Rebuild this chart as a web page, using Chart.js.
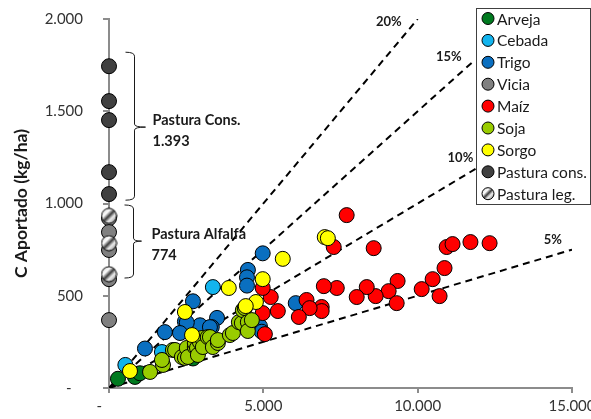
<!DOCTYPE html>
<html>
<head>
<meta charset="utf-8">
<script src="https://cdn.jsdelivr.net/npm/chart.js@4.4.1/dist/chart.umd.min.js"></script>
<style>
  html, body { margin: 0; padding: 0; background: #fff; }
</style>
</head>
<body>
<canvas id="chart" width="591" height="419"></canvas>
<script>
// ---- data ----
const seriesNames = ['Arveja', 'Cebada', 'Trigo', 'Vicia', 'Maíz', 'Soja', 'Sorgo', 'Pastura cons.', 'Pastura leg.'];

const arveja = [[290, 50], [840, 60], [1000, 80], [2720, 160]];
const cebada = [[530, 125], [1715, 195], [3365, 547]];
const trigo = [
    [4980, 730], [4500, 640], [4470, 600], [4470, 555], [2720, 470], [3500, 380],
    [3330, 330], [2950, 340], [2460, 360], [2520, 355], [1810, 303], [2300, 298],
    [1165, 214], [4890, 335], [6050, 460], [4950, 305], [3270, 330],
];
const vicia = [[0, 920], [0, 845], [0, 748], [0, 590], [0, 368]];
const maiz = [
    [7700, 937], [7280, 764], [8575, 758], [10940, 764], [11130, 780], [11710, 791],
    [12330, 785], [10870, 650], [10485, 590], [10130, 536], [10710, 498], [9350, 580],
    [9060, 525], [9320, 460], [8640, 498], [8350, 547], [8025, 493], [7380, 542],
    [6960, 552], [6890, 439], [6890, 417], [6400, 477], [6500, 433], [6150, 385],
    [5470, 417], [5240, 493], [4980, 542], [4980, 406], [5050, 292],
];
const soja = [
    [1330, 87], [1750, 125], [1715, 152], [2070, 206], [2140, 206], [2360, 168],
    [2460, 163], [2520, 217], [2560, 168], [2780, 222], [2780, 244], [2850, 217],
    [2880, 179], [2945, 249], [3010, 271], [3040, 222], [3200, 276], [3270, 276],
    [3365, 222], [3527, 244], [3527, 260], [3916, 287], [4013, 298], [4207, 357],
    [4304, 352], [4336, 422], [4400, 433], [4498, 357], [4498, 309], [4628, 368],
];
const sorgo = [
    [5630, 700], [3880, 542], [4980, 590], [4760, 466], [4430, 444], [2460, 412],
    [2690, 287], [680, 92], [6990, 818], [7090, 812],
];
const pasturaCons = [[0, 1744], [0, 1555], [0, 1452], [0, 1170], [0, 1051]];
const pasturaLeg = [[0, 933], [0, 785], [0, 617]];

// reference lines: C aportado = pct% of x
const ratioPct = [20, 15, 10, 5];
const ratioEndX = [10000, 11850, 11900, 15000];

const xTicks = [0, 5000, 10000, 15000];
const yTicks = [0, 500, 1000, 1500, 2000];

// ---- styles ----
const seriesColors = ['#007a1f', '#12b4ee', '#0a6fc0', '#808080', '#ff0000', '#99cc00', '#ffff00', '#404040', 'leg'];
const FONT = 'Lato, "Open Sans", sans-serif';

function fmt(v) {
    return String(v).replace(/\B(?=(\d{3})+(?!\d))/g, '.');
}

function legGradient(ctx, cx, cy, r) {
    const g = ctx.createLinearGradient(cx - r, cy - r, cx + r, cy + r);
    g.addColorStop(0, '#bdbdbd');
    g.addColorStop(0.33, '#ffffff');
    g.addColorStop(0.5, '#3a3a3a');
    g.addColorStop(0.66, '#eeeeee');
    g.addColorStop(1, '#707070');
    return g;
}

function legMarker(r) {
    const c = document.createElement('canvas');
    const s = Math.ceil(r * 2 + 2);
    c.width = s;
    c.height = s;
    const g = c.getContext('2d');
    g.beginPath();
    g.arc(s / 2, s / 2, r, 0, Math.PI * 2);
    g.fillStyle = legGradient(g, s / 2, s / 2, r);
    g.fill();
    g.lineWidth = 1;
    g.strokeStyle = '#000';
    g.stroke();
    return c;
}

const toPts = arr => arr.map(([x, y]) => ({ x, y }));
const seriesData = [arveja, cebada, trigo, vicia, maiz, soja, sorgo, pasturaCons, pasturaLeg];

const scatterSets = seriesData.map((d, i) => {
    const isLeg = seriesColors[i] === 'leg';
    return {
        label: seriesNames[i],
        data: toPts(d),
        backgroundColor: isLeg ? '#ddd' : seriesColors[i],
        borderColor: '#000',
        borderWidth: 1,
        pointRadius: 7.5,
        pointHoverRadius: 7.5,
        pointStyle: isLeg ? legMarker(7.5) : 'circle',
        order: 20 - i,
        clip: false,
    };
});

const lineSets = ratioPct.map((p, i) => ({
    type: 'line',
    label: p + '%',
    data: [{ x: 0, y: 0 }, { x: ratioEndX[i], y: ratioEndX[i] * p / 100 }],
    borderColor: '#000',
    borderWidth: 2,
    borderDash: [7, 5],
    pointRadius: 0,
    fill: false,
    order: 100,
}));

// labels for the ratio lines, offset (px) from each line's end
const ratioLabelOffset = [[-16, 3], [-13, -3], [-3, -11], [-10, -10]];

const overlayPlugin = {
    id: 'overlay',
    afterDatasetsDraw(chart) {
        const { ctx, scales: { x, y } } = chart;
        ctx.save();

        // ratio labels
        ctx.font = 'bold 13px ' + FONT;
        ctx.fillStyle = '#1a1a1a';
        ctx.textAlign = 'right';
        ctx.textBaseline = 'middle';
        ratioPct.forEach((p, i) => {
            const px = x.getPixelForValue(ratioEndX[i]);
            const py = y.getPixelForValue(ratioEndX[i] * p / 100);
            ctx.fillText(p + '%', px + ratioLabelOffset[i][0], py + ratioLabelOffset[i][1]);
        });

        // braces + notes for pasture groups
        const braces = [
            { x: 800, top: 1820, mid: 1414, bottom: 1018, tick: 11, lines: ['Pastura Cons.', '1.393'] },
            { x: 770, top: 992, mid: 796, bottom: 596, tick: 8, lines: ['Pastura Alfalfa', '774'] },
        ];
        ctx.strokeStyle = '#1a1a1a';
        ctx.lineWidth = 1;
        braces.forEach(b => {
            const xp = Math.round(x.getPixelForValue(b.x)) + 0.5;
            const yt = y.getPixelForValue(b.top);
            const ym = y.getPixelForValue(b.mid);
            const yb = y.getPixelForValue(b.bottom);
            ctx.beginPath();
            ctx.moveTo(xp - 9, yt);
            ctx.quadraticCurveTo(xp, yt, xp, yt + 4);
            ctx.lineTo(xp, ym - 3);
            ctx.quadraticCurveTo(xp, ym, xp + b.tick, ym);
            ctx.moveTo(xp + b.tick, ym);
            ctx.quadraticCurveTo(xp, ym, xp, ym + 3);
            ctx.lineTo(xp, yb - 4);
            ctx.quadraticCurveTo(xp, yb, xp - 9, yb);
            ctx.stroke();

            ctx.font = 'bold 14.5px ' + FONT;
            ctx.textAlign = 'left';
            ctx.fillStyle = '#1a1a1a';
            ctx.fillText(b.lines[0], xp + 18, ym - 7);
            ctx.fillText(b.lines[1], xp + 18, ym + 14);
        });

        // legend box
        const lx = 476.5, ly = 8.5, lw = 114, lh = 196;
        ctx.fillStyle = '#fff';
        ctx.fillRect(lx, ly, lw, lh);
        ctx.strokeStyle = '#404040';
        ctx.lineWidth = 1;
        ctx.strokeRect(lx, ly, lw, lh);
        ctx.font = '15.5px ' + FONT;
        ctx.textAlign = 'left';
        ctx.textBaseline = 'middle';
        seriesNames.forEach((name, i) => {
            const cy = 18.5 + i * 21.9;
            const cx = 488;
            ctx.beginPath();
            ctx.arc(cx, cy, 6, 0, Math.PI * 2);
            ctx.fillStyle = seriesColors[i] === 'leg' ? legGradient(ctx, cx, cy, 6) : seriesColors[i];
            ctx.fill();
            ctx.strokeStyle = '#000';
            ctx.stroke();
            ctx.fillStyle = '#1a1a1a';
            ctx.fillText(name, 497, cy + 1);
        });

        ctx.restore();
    },
};

const axisGrey = '#8c8c8c';

new Chart(document.getElementById('chart'), {
    type: 'scatter',
    data: { datasets: [...scatterSets, ...lineSets] },
    options: {
        responsive: false,
        animation: false,
        layout: { padding: { top: 19, right: 19, left: 0, bottom: 0 } },
        plugins: {
            legend: { display: false },
            tooltip: { enabled: false },
        },
        scales: {
            x: {
                type: 'linear',
                min: 0,
                max: 15000,
                // fixed band under the plot; label overflow is taken by the layout padding
                afterFit: s => {
                    s.height = 31;
                    s.paddingLeft = 0;
                    s.paddingRight = 0;
                },
                afterBuildTicks: s => { s.ticks = xTicks.map(v => ({ value: v })); },
                ticks: {
                    color: '#333',
                    font: { family: FONT, size: 15 },
                    padding: 4,
                    maxRotation: 0,
                    callback: v => (v === 0 ? '-     ' : fmt(v)),
                },
                grid: { drawOnChartArea: false, drawTicks: true, tickLength: 5, color: axisGrey, lineWidth: 2 },
                border: { color: axisGrey, width: 2 },
            },
            y: {
                type: 'linear',
                min: 0,
                max: 2000,
                afterFit: s => {
                    s.width = 109;
                    s.paddingTop = 0;
                    s.paddingBottom = 0;
                },
                afterBuildTicks: s => { s.ticks = yTicks.map(v => ({ value: v })); },
                ticks: {
                    color: '#333',
                    font: { family: FONT, size: 15 },
                    padding: 20,
                    callback: v => (v === 0 ? '-   ' : fmt(v)),
                },
                title: {
                    display: true,
                    text: 'C Aportado (kg/ha)',
                    color: '#1a1a1a',
                    font: { family: FONT, size: 17.5, weight: 'bold' },
                    padding: { top: 11, bottom: 0 },
                },
                grid: { drawOnChartArea: false, drawTicks: true, tickLength: 6, color: axisGrey, lineWidth: 2 },
                border: { color: axisGrey, width: 2 },
            },
        },
    },
    plugins: [overlayPlugin],
});
</script>
</body>
</html>
